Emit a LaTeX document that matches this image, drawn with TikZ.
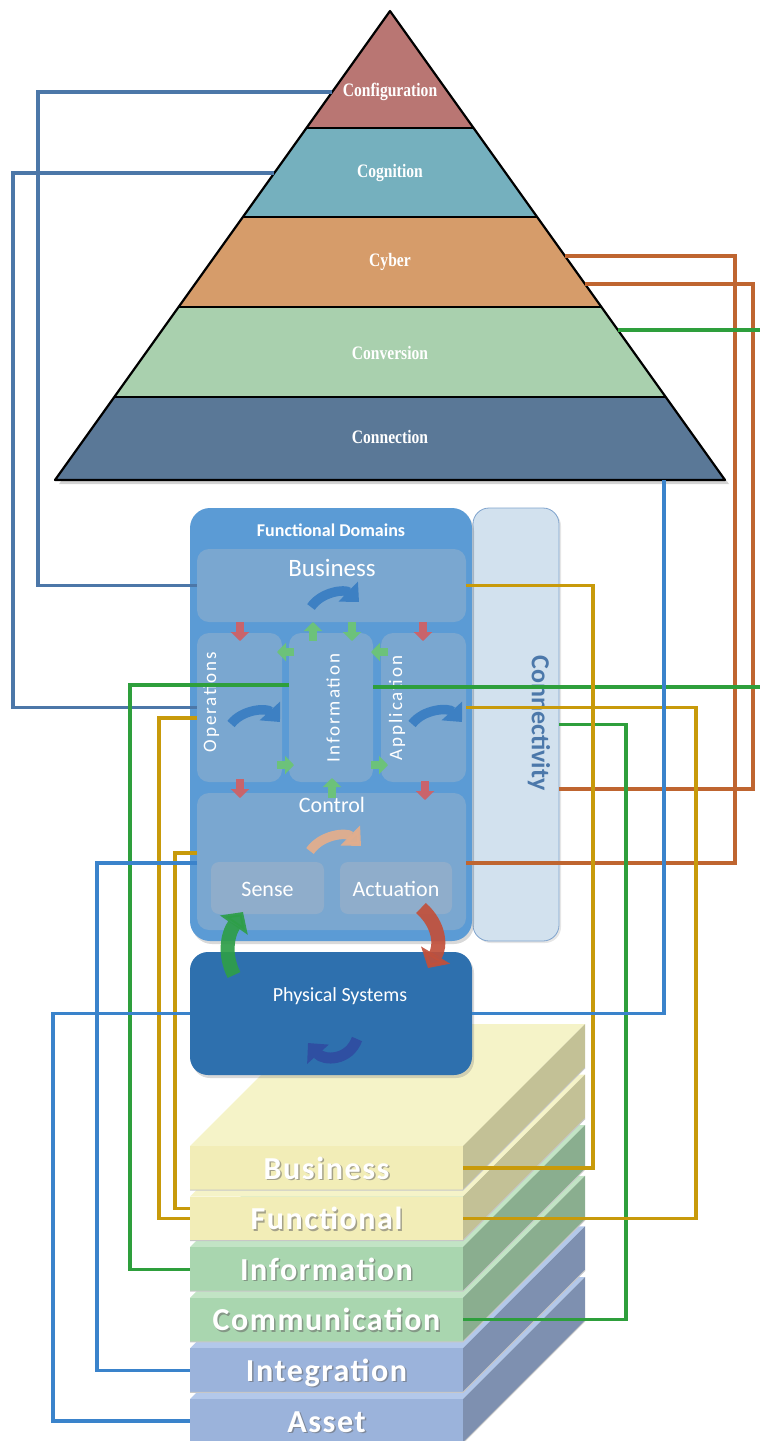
\documentclass[tikz,border=0pt]{standalone}
\usepackage{fontspec}
\setmainfont{Carlito}
\newfontfamily\pyrfont{Liberation Serif}
\newfontfamily\stackfont{Carlito}[LetterSpace=5]
\newfontfamily\vertfont{Carlito}[LetterSpace=10]
\usetikzlibrary{arrows.meta,shadows,calc}

% pyramid bands
\definecolor{pyConfig}{HTML}{B97673}
\definecolor{pyCog}{HTML}{75B0BE}
\definecolor{pyCyber}{HTML}{D69C6A}
\definecolor{pyConv}{HTML}{A9D0AE}
\definecolor{pyConn}{HTML}{5A7897}
% functional domains
\definecolor{fdOuter}{HTML}{5B9BD5}
\definecolor{fdInner}{HTML}{7AA7D0}
\definecolor{fdSub}{HTML}{8FADCB}
\definecolor{conFill}{HTML}{D2E1EE}
\definecolor{conEdge}{HTML}{7FA3CD}
\definecolor{conText}{HTML}{4C78AA}
\definecolor{physFill}{HTML}{2E70AE}
% arrows
\definecolor{arrBlue}{HTML}{3D80C3}
\definecolor{arrPeach}{HTML}{E2AE8D}
\definecolor{arrNavy}{HTML}{2F4FA2}
\definecolor{arrGreen}{HTML}{2E9E48}
\definecolor{arrRed}{HTML}{C1503B}
\definecolor{blkRed}{HTML}{C9646B}
\definecolor{blkGreen}{HTML}{6CC27A}
% connector lines
\definecolor{lnSteel}{HTML}{4C77A8}
\definecolor{lnBlue}{HTML}{3A83CB}
\definecolor{lnGold}{HTML}{C89A0A}
\definecolor{lnOrange}{HTML}{BF6530}
\definecolor{lnGreen}{HTML}{2E9F3C}
% layer stack
\definecolor{yelFront}{HTML}{F2EDB7}
\definecolor{yelTop}{HTML}{F5F3C8}
\definecolor{yelSide}{HTML}{C3C196}
\definecolor{grnFront}{HTML}{A9D6AF}
\definecolor{grnTop}{HTML}{C2E4C5}
\definecolor{grnSide}{HTML}{8AAE8F}
\definecolor{bluFront}{HTML}{9BB3DB}
\definecolor{bluTop}{HTML}{B3C8EA}
\definecolor{bluSide}{HTML}{7E90B0}

\newcommand\pyrtext[1]{\scalebox{0.82}[1]{#1}}

% one slab of the layer stack: #1 top y, #2 front, #3 top, #4 side, #5 label, #6 name
\newcommand\drawslab[6]{%
  \fill[#3] (190,#1) -- (463,#1) -- (585,#1-122) -- (312,#1-122) -- cycle;
  \fill[#4] (463,#1) -- (585,#1-122) -- (585,#1-78) -- (463,#1+44) -- cycle;
  \node[slabface, fill=#2] (#6) at (190,#1) {};
  \draw[black!22, line width=1pt] (190,#1+44) -- (463,#1+44) -- (585,#1-78);
  \node[slablbl, text=black!60, opacity=0.55] at (328,#1+34.5) {#5};
  \node[slablbl, text=white] at (326.5,#1+33) {#5};
}

\begin{document}
\begin{tikzpicture}[x=1pt,y=-1pt,
  box/.style={rectangle, inner sep=0pt, outer sep=0pt, anchor=north west},
  innerbox/.style={box, fill=fdInner, rounded corners=12pt},
  wtxt/.style={text=white, inner sep=0pt, font=\fontsize{22}{24}\selectfont},
  vtxt/.style={text=white, inner sep=0pt, rotate=90, font=\vertfont\fontsize{19}{21}\selectfont},
  pyrlbl/.style={text=white, inner sep=0pt, font=\pyrfont\bfseries\fontsize{19}{21}\selectfont},
  curvy/.style={line width=9.5pt, draw=arrBlue, -{Triangle[width=27pt,length=15pt]}},
  blk/.style={line width=8pt, -{Triangle[width=18pt,length=9pt]}},
  ln/.style={line width=3.3pt, line join=miter},
  slabface/.style={box, minimum width=273pt, minimum height=44pt},
  slablbl/.style={anchor=base, inner sep=0pt, font=\stackfont\bfseries\fontsize{32}{34}\selectfont},
]
\useasboundingbox (0,0) rectangle (760,1441);

%% ---------- 5C pyramid ----------
\coordinate (apex) at (390,11);
\coordinate (baseL) at (55,480);
\coordinate (baseR) at (725,480);
\fill[pyConn, drop shadow={shadow xshift=4pt, shadow yshift=-4pt, opacity=0.35}]
  (apex) -- (baseR) -- (baseL) -- cycle;
\begin{scope}
  \clip (apex) -- (baseR) -- (baseL) -- cycle;
  \fill[pyConfig] (0,0) rectangle (760,128);
  \fill[pyCog] (0,128) rectangle (760,217);
  \fill[pyCyber] (0,217) rectangle (760,307);
  \fill[pyConv] (0,307) rectangle (760,397);
  \fill[pyConn] (0,397) rectangle (760,481);
\end{scope}
\draw[line width=2.8pt] (306.4,128) -- (473.6,128);
\draw[line width=2.8pt] (242.9,217) -- (537.1,217);
\draw[line width=2.8pt] (178.6,307) -- (601.4,307);
\draw[line width=2.8pt] (114.3,397) -- (665.7,397);
\draw[line width=2.2pt, line join=round] (apex) -- (baseR) -- (baseL) -- cycle;

\node[pyrlbl] (tCfg) at (390,92) {\pyrtext{Configuration}};
\node[pyrlbl] (tCog) at (390,173) {\pyrtext{Cognition}};
\node[pyrlbl] (tCyb) at (390,262) {\pyrtext{Cyber}};
\node[pyrlbl] (tConv) at (390,353) {\pyrtext{Conversion}};
\node[pyrlbl] (tConn) at (390,437) {\pyrtext{Connection}};

% attachment points on the pyramid edges
\coordinate (cfgPt) at (332.1,92);
\coordinate (cogPt) at (274.3,173);
\coordinate (cybA) at (565,256);
\coordinate (cybB) at (585,284);
\coordinate (convPt) at (617.9,330);
\coordinate (connPt) at (664,480);

%% ---------- layer stack ----------
\drawslab{1399}{bluFront}{bluTop}{bluSide}{Asset}{lAsset}
\drawslab{1348.4}{bluFront}{bluTop}{bluSide}{Integration}{lInt}
\drawslab{1297.8}{grnFront}{grnTop}{grnSide}{Communication}{lComm}
\drawslab{1247.2}{grnFront}{grnTop}{grnSide}{Information}{lInfo}
\drawslab{1196.6}{yelFront}{yelTop}{yelSide}{Functional}{lFun}
\drawslab{1146}{yelFront}{yelTop}{yelSide}{Business}{lBus}

%% ---------- functional domains ----------
\node[box, fill=conFill, draw=conEdge, line width=0.8pt, rounded corners=16pt,
  minimum width=86pt, minimum height=433pt,
  drop shadow={shadow xshift=2pt, shadow yshift=-2pt, opacity=0.2}] (conn) at (473,508) {};
\node[rotate=-90, text=conText, inner sep=0pt, font=\bfseries\fontsize{26}{28}\selectfont]
  (connLbl) at (539,723) {Connectivity};

\node[box, fill=fdOuter, rounded corners=20pt, minimum width=282pt, minimum height=433pt,
  drop shadow={shadow xshift=2pt, shadow yshift=-3pt, opacity=0.3}] (fd) at (190,508) {};
\node[text=white, inner sep=0pt, font=\bfseries\fontsize{18}{20}\selectfont]
  (fdTitle) at (331,530) {Functional Domains};

\node[innerbox, minimum width=269pt, minimum height=73pt] (bus) at (197,549) {};
\node[innerbox, minimum width=85pt, minimum height=149pt] (ops) at (197,633) {};
\node[innerbox, minimum width=84pt, minimum height=149pt] (info) at (289,633) {};
\node[innerbox, minimum width=85pt, minimum height=149pt] (app) at (381,633) {};
\node[innerbox, minimum width=269pt, minimum height=137pt] (ctrl) at (197,793) {};
\node[box, fill=fdSub, rounded corners=8pt, minimum width=113pt, minimum height=52pt] (sense) at (211,862) {};
\node[box, fill=fdSub, rounded corners=8pt, minimum width=112pt, minimum height=52pt] (act) at (340,862) {};

\node[wtxt, font=\fontsize{25}{27}\selectfont] (busLbl) at (332,568) {Business};
\node[vtxt] (opsLbl) at (211,702) {Operations};
\node[vtxt] (infoLbl) at (333,708) {Information};
\node[vtxt] (appLbl) at (397,708) {Application};
\node[wtxt] (ctrlLbl) at (332,805) {Control};
\node[wtxt] (senseLbl) at (267.5,889) {Sense};
\node[wtxt] (actLbl) at (396,889) {Actuation};

% curved flow arrows
\draw[curvy] (311,607) to[bend left=50] (359,602);
\draw[curvy] (231,724) to[bend left=50] (280,722);
\draw[curvy] (412,724) to[bend left=50] (462,722);
\draw[curvy, draw=arrPeach, opacity=0.95] (310,851) to[bend left=50] (361,846);

% small block arrows between the domains
\draw[blk, draw=blkRed] (240,622) -- (240,641);
\draw[blk, draw=blkRed] (423,622) -- (423,641);
\draw[blk, draw=blkRed] (240,779) -- (240,798);
\draw[blk, draw=blkRed] (425,781) -- (425,800);
\draw[blk, draw=blkGreen] (313,641) -- (313,622);
\draw[blk, draw=blkGreen] (352,622) -- (352,641);
\draw[blk, draw=blkGreen] (294,652) -- (277,652);
\draw[blk, draw=blkGreen] (388,652) -- (371,652);
\draw[blk, draw=blkGreen] (277,765) -- (294,765);
\draw[blk, draw=blkGreen] (371,765) -- (388,765);
\draw[blk, draw=blkGreen] (332,798) -- (332,778);

%% ---------- physical systems ----------
\node[box, fill=physFill, rounded corners=18pt, minimum width=282pt, minimum height=123pt,
  drop shadow={shadow xshift=2pt, shadow yshift=-3pt, opacity=0.3}] (phys) at (190,952) {};
\node[text=white, inner sep=0pt, font=\fontsize{20}{22}\selectfont] (physLbl) at (340,996) {Physical Systems};
\draw[line width=11pt, draw=arrNavy, -{Triangle[width=28pt,length=15pt]}]
  (357,1039) .. controls (349,1061) and (324,1061) .. (308,1043);

% sense / actuation arrows between control and physical systems
\draw[line width=14pt, draw=arrGreen, opacity=0.92, -{Triangle[width=33pt,length=16pt]}]
  (234,975) .. controls (224,955) and (227,935) .. (243,912);
\draw[line width=14pt, draw=arrRed, opacity=0.92, -{Triangle[width=33pt,length=15pt]}]
  (421,908) .. controls (440,925) and (441,946) .. (428,968);

%% ---------- connectors ----------
\draw[ln, lnSteel] (cfgPt) -- (38,92) |- (bus.west);
\draw[ln, lnSteel] (cogPt) -- (13,173) |- (ops.west);
\draw[ln, lnOrange] (cybA) -- (735,256) |- ($(ctrl.east)+(0,1.5)$);
\draw[ln, lnOrange] (cybB) -- (753,284) |- ($(conn.east)+(0,64.5)$);
\draw[ln, lnGreen] (convPt) -- (763,330) |- ($(info.east)+(0,-20.5)$);
\draw[ln, lnGreen] ($(info.west)+(0,-22.5)$) -- (130,685) |- (lInfo.west);
\draw[ln, lnGreen] (conn.east) -- (626,724.5) |- (lComm.east);
\draw[ln, lnGold] (bus.east) -- (593,585.5) |- (lBus.east);
\draw[ln, lnGold] (app.east) -- (696,707.5) |- (lFun.east);
\draw[ln, lnGold] ($(ops.west)+(0,10.5)$) -- (159,718) |- (lFun.west);
\draw[ln, lnGold] ($(ctrl.west)+(0,-8.5)$) -- (175,853) |- ($(lFun.west)+(0,-10)$);
\draw[ln, lnBlue] ($(ctrl.west)+(0,1.5)$) -- (97,863) |- (lInt.west);
\draw[ln, lnBlue] (phys.west) -- (53,1013.5) |- (lAsset.west);
\draw[ln, lnBlue] (connPt) |- (phys.east);
\end{tikzpicture}
\end{document}
